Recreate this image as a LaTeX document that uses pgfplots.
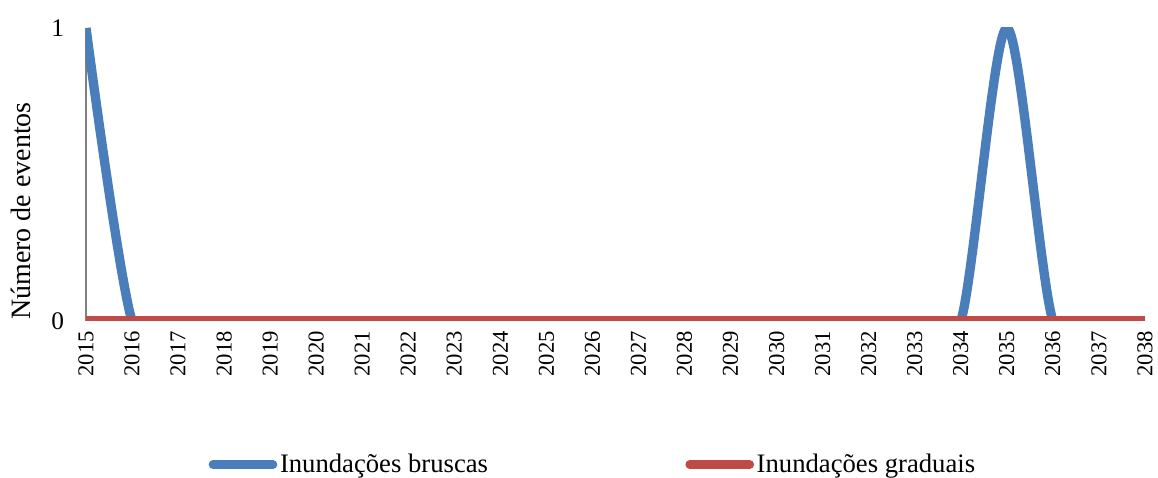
\documentclass[border=0pt]{standalone}
\usepackage{fontspec}
\setmainfont{Liberation Serif}
\usepackage{pgfplots}
\pgfplotsset{compat=1.18}
\definecolor{serieblue}{HTML}{4A7EBB}
\definecolor{seriered}{HTML}{BE4B48}

\begin{document}
\begin{tikzpicture}[x=1pt,y=1pt]
  % page size = 1158 x 478 px at 0.75pt per px, axis box at its lower left corner
  \useasboundingbox (-64.5,-117.75) rectangle (804,240.75);
  \begin{axis}[
      at={(0,0)}, anchor=south west,
      scale only axis,
      width=794.25pt, height=219.75pt,
      xmin=2015, xmax=2038,
      ymin=0, ymax=1,
      xtick={2015,...,2038},
      ytick={0,1},
      major tick length=0pt,
      /pgf/number format/1000 sep={},
      /pgf/number format/assume math mode=true,
      axis lines=left,
      axis line style={-},
      x axis line style={draw=none},
      y axis line style={draw=gray, line width=0.8pt},
      xticklabel style={rotate=90, anchor=east, font=\fontsize{17}{18}\selectfont, xshift=-4pt},
      yticklabel style={font=\fontsize{19}{20}\selectfont, xshift=-13pt},
      ylabel={Número de eventos},
      every axis y label/.style={at={(axis description cs:-0.061,0.375)}, rotate=90, anchor=center,
        font=\fontsize{21}{22}\selectfont},
      legend columns=2,
      legend style={draw=none, at={(axis description cs:0.479,-0.49)}, anchor=center,
        font=\fontsize{20}{21}\selectfont,
        /tikz/every even column/.append style={column sep=146pt}},
      legend image code/.code={\draw[#1, line width=6.5pt, line cap=round] (0pt,0pt) -- (45pt,0pt);},
    ]
    \addplot[serieblue, line width=7pt, smooth] coordinates {
      (2015,1) (2016,0) (2017,0) (2018,0) (2019,0) (2020,0) (2021,0) (2022,0)
      (2023,0) (2024,0) (2025,0) (2026,0) (2027,0) (2028,0) (2029,0) (2030,0)
      (2031,0) (2032,0) (2033,0) (2034,0) (2035,1) (2036,0) (2037,0) (2038,0)
    };
    \addplot[seriered, line width=7pt] coordinates {
      (2015,0) (2016,0) (2017,0) (2018,0) (2019,0) (2020,0) (2021,0) (2022,0)
      (2023,0) (2024,0) (2025,0) (2026,0) (2027,0) (2028,0) (2029,0) (2030,0)
      (2031,0) (2032,0) (2033,0) (2034,0) (2035,0) (2036,0) (2037,0) (2038,0)
    };
    \legend{Inundações bruscas, Inundações graduais}
  \end{axis}
\end{tikzpicture}
\end{document}
